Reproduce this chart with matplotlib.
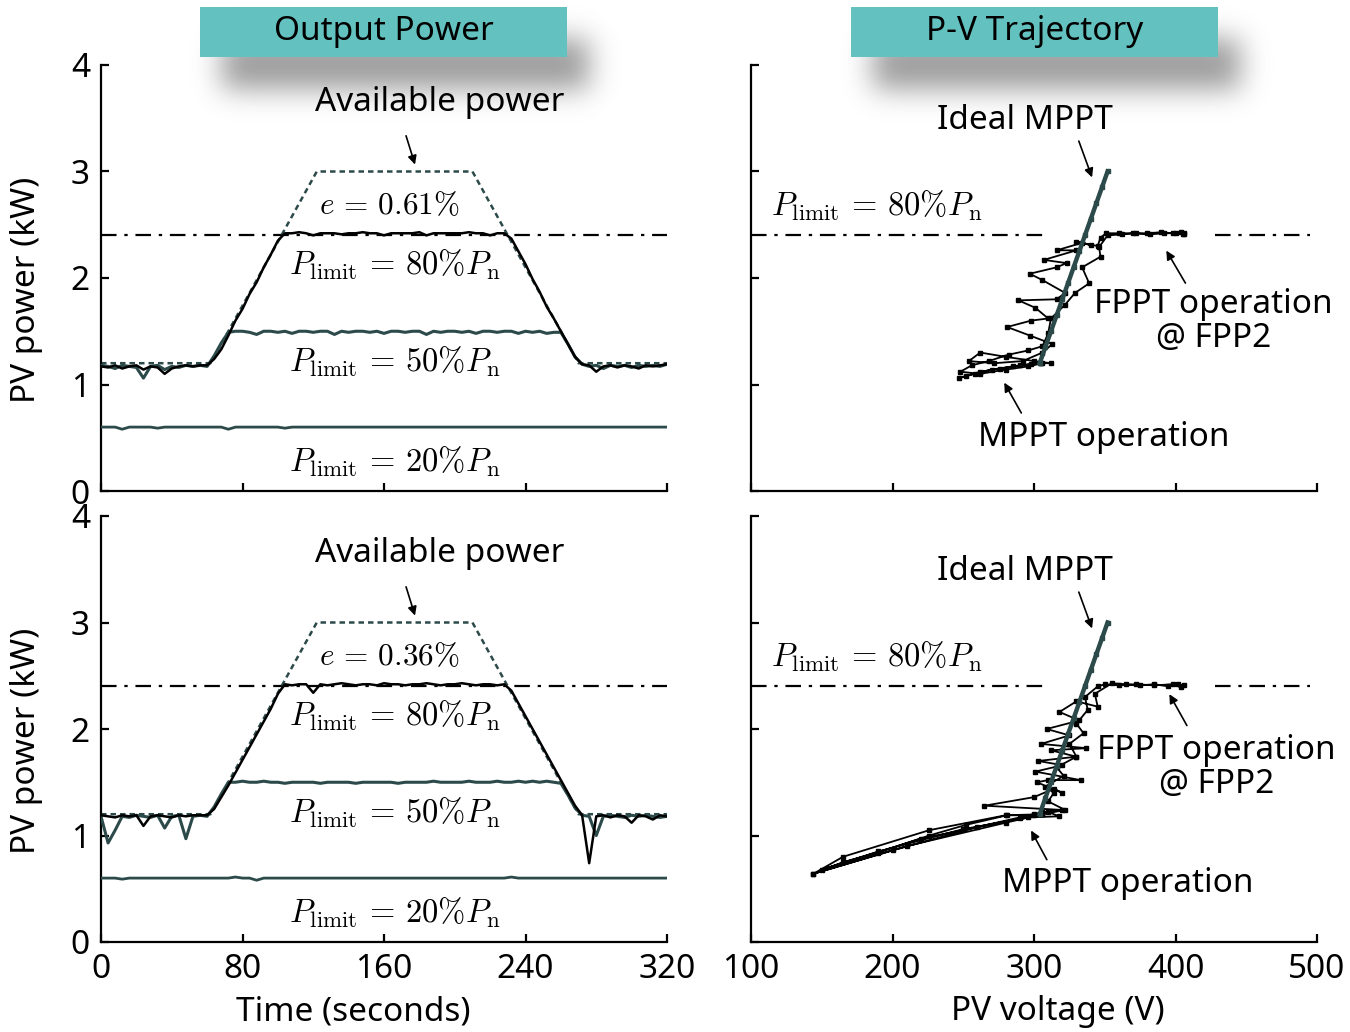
import numpy as np
import matplotlib
matplotlib.use("Agg")
import matplotlib.pyplot as plt
from matplotlib.patches import Rectangle

plt.rcParams['font.family'] = ['Noto Sans', 'DejaVu Sans']
plt.rcParams['mathtext.fontset'] = 'cm'

# ---------------- data ----------------
time_s = np.arange(0, 321, 4)

avail_t = [0, 62, 122, 210, 270, 320]
avail_p = [1.20, 1.20, 3.00, 3.00, 1.20, 1.20]

top_p80 = [1.17, 1.16, 1.18, 1.15, 1.17, 1.18, 1.14, 1.17, 1.16, 1.10, 1.15, 1.17, 1.18, 1.17, 1.18, 1.18,
           1.24, 1.33, 1.46, 1.60, 1.71, 1.85, 1.96, 2.10, 2.22, 2.35,
           2.42, 2.42, 2.43, 2.42, 2.40, 2.42, 2.42, 2.42, 2.41, 2.42, 2.42, 2.43, 2.42, 2.42, 2.40, 2.42,
           2.42, 2.42, 2.42, 2.43, 2.40, 2.42, 2.42, 2.42, 2.42, 2.42, 2.43, 2.42, 2.42, 2.40, 2.42, 2.42,
           2.37, 2.25, 2.13, 1.99, 1.87, 1.73, 1.62, 1.50, 1.38, 1.26, 1.19,
           1.18, 1.12, 1.17, 1.18, 1.16, 1.18, 1.17, 1.15, 1.18, 1.17, 1.18, 1.19]
top_p50 = [1.18, 1.17, 1.15, 1.18, 1.17, 1.16, 1.06, 1.17, 1.18, 1.14, 1.17, 1.16, 1.18, 1.17, 1.18, 1.17,
           1.27, 1.39,
           1.49, 1.50, 1.50, 1.49, 1.47, 1.50, 1.50, 1.49, 1.50, 1.48,
           1.50, 1.50, 1.49, 1.50, 1.50, 1.47, 1.50, 1.49, 1.50, 1.50,
           1.49, 1.50, 1.48, 1.50, 1.50, 1.49, 1.50, 1.50, 1.47, 1.50,
           1.49, 1.50, 1.50, 1.49, 1.50, 1.48, 1.50, 1.50, 1.49, 1.50,
           1.50, 1.48, 1.50, 1.49, 1.50, 1.48, 1.49,
           1.49, 1.38, 1.26, 1.19,
           1.17, 1.18, 1.15, 1.18, 1.17, 1.18, 1.16, 1.18, 1.17, 1.18, 1.17, 1.19]
top_p20 = [0.60, 0.60, 0.60, 0.58, 0.60, 0.60, 0.60, 0.60, 0.59, 0.60, 0.60, 0.60, 0.60, 0.60, 0.60, 0.60,
           0.60, 0.60, 0.58, 0.60, 0.60, 0.60, 0.60, 0.60, 0.60, 0.60, 0.59, 0.60, 0.60, 0.60, 0.60, 0.60,
           0.60, 0.60, 0.60, 0.60, 0.60, 0.60, 0.60, 0.60, 0.60, 0.60, 0.60, 0.60, 0.60, 0.60, 0.60, 0.60,
           0.60, 0.60, 0.60, 0.60, 0.60, 0.60, 0.60, 0.60, 0.60, 0.60, 0.60, 0.60, 0.60, 0.60, 0.60, 0.60,
           0.60, 0.60, 0.60, 0.60, 0.60, 0.60, 0.60, 0.60, 0.60, 0.60, 0.60, 0.60, 0.60, 0.60, 0.60, 0.60,
           0.60]

bot_p80 = [1.19, 1.18, 1.17, 1.19, 1.18, 1.19, 1.09, 1.18, 1.19, 1.18, 1.17, 1.19, 1.18, 1.19, 1.19, 1.19,
           1.25, 1.36, 1.47, 1.59, 1.71, 1.83, 1.95, 2.07, 2.19, 2.33,
           2.42, 2.41, 2.42, 2.42, 2.34, 2.42, 2.41, 2.42, 2.43, 2.42, 2.41, 2.42, 2.42, 2.41, 2.43, 2.42,
           2.42, 2.41, 2.42, 2.42, 2.43, 2.42, 2.41, 2.42, 2.42, 2.43, 2.42, 2.41, 2.42, 2.42, 2.41, 2.42,
           2.36, 2.24, 2.12, 2.00, 1.88, 1.76, 1.64, 1.52, 1.40, 1.28, 1.19,
           0.74, 1.18, 1.19, 1.17, 1.19, 1.18, 1.12, 1.19, 1.18, 1.15, 1.19, 1.18]
bot_p50 = [1.18, 0.93, 1.05, 1.18, 1.17, 1.19, 1.18, 1.17, 1.19, 1.07, 1.18, 1.19, 0.97, 1.18, 1.19, 1.18,
           1.27, 1.39,
           1.50, 1.50, 1.51, 1.50, 1.50, 1.51, 1.50, 1.50, 1.49, 1.50,
           1.50, 1.50, 1.50, 1.49, 1.50, 1.50, 1.50, 1.50, 1.49, 1.50,
           1.50, 1.50, 1.50, 1.50, 1.49, 1.50, 1.50, 1.50, 1.50, 1.51,
           1.50, 1.50, 1.50, 1.50, 1.51, 1.50, 1.50, 1.50, 1.51, 1.50,
           1.50, 1.51, 1.50, 1.51, 1.50, 1.51, 1.50,
           1.49, 1.38, 1.26, 1.19,
           1.18, 1.00, 1.18, 1.19, 1.18, 1.17, 1.19, 1.18, 1.19, 1.18, 1.17, 1.18]
bot_p20 = [0.60, 0.60, 0.60, 0.59, 0.60, 0.60, 0.60, 0.60, 0.60, 0.60, 0.60, 0.60, 0.60, 0.60, 0.60, 0.60,
           0.60, 0.60, 0.60, 0.61, 0.60, 0.60, 0.58, 0.60, 0.60, 0.60, 0.60, 0.60, 0.60, 0.60, 0.60, 0.60,
           0.60, 0.60, 0.60, 0.60, 0.60, 0.60, 0.60, 0.60, 0.60, 0.60, 0.60, 0.60, 0.60, 0.60, 0.60, 0.60,
           0.60, 0.60, 0.60, 0.60, 0.60, 0.60, 0.60, 0.60, 0.60, 0.60, 0.61, 0.60, 0.60, 0.60, 0.60, 0.60,
           0.60, 0.60, 0.60, 0.60, 0.60, 0.60, 0.60, 0.60, 0.60, 0.60, 0.60, 0.60, 0.60, 0.60, 0.60, 0.60,
           0.60]

ideal_v = [304, 308, 312, 316, 320, 324, 328, 332, 336, 340, 344, 348, 352]
ideal_p = [1.20, 1.35, 1.50, 1.65, 1.80, 1.95, 2.10, 2.25, 2.40, 2.55, 2.70, 2.85, 3.00]

pv_top_v = [305, 298, 285, 270, 258, 247, 252, 262, 276, 290, 304, 312, 300, 280, 262,
            254, 272, 292, 306, 313, 297, 281, 298, 310, 301, 289, 316, 322, 306, 297,
            316, 323, 307, 330, 316, 334, 340, 330, 345, 347, 351, 360, 370, 382, 392,
            400, 405, 406, 404, 406, 398, 390, 380, 372, 362, 352, 346, 347, 334, 339,
            329, 322, 312, 310, 306, 296, 282, 268, 256, 248, 262, 280, 296, 306]
pv_top_p = [1.20, 1.19, 1.17, 1.14, 1.10, 1.06, 1.08, 1.12, 1.15, 1.18, 1.20, 1.20, 1.22, 1.26, 1.30,
            1.22, 1.20, 1.22, 1.30, 1.38, 1.46, 1.54, 1.60, 1.62, 1.72, 1.79, 1.80, 1.86, 1.98, 2.04,
            2.10, 2.14, 2.17, 2.26, 2.26, 2.33, 2.31, 2.34, 2.30, 2.38, 2.42, 2.42, 2.42, 2.41, 2.42,
            2.42, 2.41, 2.42, 2.43, 2.41, 2.42, 2.43, 2.42, 2.42, 2.41, 2.40, 2.29, 2.20, 2.10, 1.95,
            1.86, 1.75, 1.62, 1.48, 1.36, 1.32, 1.28, 1.22, 1.18, 1.12, 1.10, 1.14, 1.17, 1.20]

pv_bot_v = [306, 300, 281, 252, 226, 190, 165, 144, 200, 260, 300, 310, 318, 296, 250,
            190, 150, 220, 290, 306, 320, 265, 300, 314, 320, 302, 310, 333, 301, 320,
            303, 330, 312, 337, 305, 325, 309, 332, 318, 330, 345, 343, 355, 365, 375,
            385, 395, 402, 406, 404, 398, 385, 372, 360, 350, 345, 336, 338, 330, 335,
            325, 330, 316, 321, 308, 314, 310, 322, 306, 280, 226, 165, 144, 210, 280, 306]
pv_bot_p = [1.20, 1.19, 1.19, 1.10, 1.00, 0.84, 0.75, 0.64, 0.86, 1.08, 1.20, 1.22, 1.18, 1.17, 1.06,
            0.85, 0.68, 0.97, 1.16, 1.22, 1.24, 1.28, 1.36, 1.44, 1.40, 1.50, 1.52, 1.52, 1.60, 1.66,
            1.70, 1.74, 1.80, 1.82, 1.86, 1.94, 2.00, 2.08, 2.16, 2.26, 2.21, 2.33, 2.43, 2.42, 2.41,
            2.42, 2.40, 2.42, 2.41, 2.39, 2.42, 2.41, 2.42, 2.41, 2.42, 2.40, 2.30, 2.18, 2.05, 1.96,
            1.86, 1.74, 1.64, 1.56, 1.46, 1.40, 1.32, 1.24, 1.20, 1.19, 1.05, 0.80, 0.64, 0.90, 1.12, 1.20]

p_limit = 2.4
limit_segments_v = [(100, 307), (428, 495)]

time_ticks = [0, 80, 160, 240, 320]
volt_ticks = [100, 200, 300, 400, 500]
power_ticks = [0, 1, 2, 3, 4]
errors = ["0.61", "0.36"]

# ---------------- style ----------------
TEAL = '#2c4a4a'
BOX = '#63c2c0'
FS = 24
MFS = 23.5
W, H = 1350, 1032
fig = plt.figure(figsize=(W / 100, H / 100), dpi=100)
fig.patch.set_facecolor('white')


def px_axes(x0, y0, x1, y1):
    return fig.add_axes([x0 / W, 1 - y1 / H, (x1 - x0) / W, (y1 - y0) / H])


def blur1d(a, sigma, axis):
    r = int(3 * sigma)
    k = np.exp(-0.5 * (np.arange(-r, r + 1) / sigma) ** 2)
    k /= k.sum()
    return np.apply_along_axis(lambda m: np.convolve(m, k, mode='same'), axis, a)


def shadow(x0, y0, x1, y1, dx, dy, sigma, strength):
    pad = int(3 * sigma) + 2
    X0, Y0, X1, Y1 = x0 + dx - pad, y0 + dy - pad, x1 + dx + pad, y1 + dy + pad
    h, w = Y1 - Y0, X1 - X0
    a = np.zeros((h, w))
    a[pad:h - pad, pad:w - pad] = 1.0
    a = blur1d(blur1d(a, sigma, 0), sigma, 1) * strength
    img = np.zeros((h, w, 4))
    img[..., :3] = 0.35
    img[..., 3] = a
    sa = px_axes(X0, Y0, X1, Y1)
    sa.imshow(img, aspect='auto', interpolation='bilinear')
    sa.axis('off')
    sa.set_zorder(-5)


def title_box(x0, x1, text):
    shadow(x0, 7, x1, 57, 22, 32, 14, 0.6)
    ta = px_axes(x0, 7, x1, 57)
    ta.add_patch(Rectangle((0, 0), 1, 1, transform=ta.transAxes, color=BOX))
    ta.text(0.5, 0.52, text, ha='center', va='center', fontsize=24, transform=ta.transAxes)
    ta.axis('off')


def style_axes(ax, xlim, xticks, ylabels, xlabels):
    ax.set_facecolor('none')
    ax.set_xlim(*xlim)
    ax.set_ylim(0, 4)
    ax.set_xticks(xticks)
    ax.set_yticks(power_ticks)
    for s in ['top', 'right']:
        ax.spines[s].set_visible(False)
    for s in ['left', 'bottom']:
        ax.spines[s].set_linewidth(1.6)
    ax.tick_params(direction='in', length=6, width=1.6, labelsize=FS, pad=8)
    if not ylabels:
        ax.set_yticklabels([])
    if not xlabels:
        ax.set_xticklabels([])


math80 = r'$P_{\rm limit}\,=\,80\%P_{\rm n}$'
math50 = r'$P_{\rm limit}\,=\,50\%P_{\rm n}$'
math20 = r'$P_{\rm limit}\,=\,20\%P_{\rm n}$'

title_box(200, 567, 'Output Power')
title_box(851, 1218, 'P-V Trajectory')

rows = [(65, 491, top_p80, top_p50, top_p20, pv_top_v, pv_top_p, errors[0]),
        (516, 942, bot_p80, bot_p50, bot_p20, pv_bot_v, pv_bot_p, errors[1])]

arrow_kw = dict(arrowstyle='-|>', color='black', lw=1.2, mutation_scale=13)

for r, (y0, y1, p80, p50, p20, pvv, pvp, err) in enumerate(rows):
    last = r == 1
    # ----- left: time series -----
    ax = px_axes(101, y0, 667, y1)
    style_axes(ax, (0, 320), time_ticks, True, last)
    ax.axhline(p_limit, color='black', lw=1.6, dashes=[7, 3.5, 1.5, 3.5], zorder=1)
    ax.plot(avail_t, avail_p, color=TEAL, lw=1.8, dashes=[2.2, 1.6], zorder=2)
    ax.plot(time_s, p50, color=TEAL, lw=2.2, zorder=3)
    ax.plot(time_s, p80, color='black', lw=1.8, zorder=4)
    ax.plot(time_s, p20, color=TEAL, lw=2.0, zorder=3)
    ax.set_ylabel('PV power (kW)', fontsize=FS)
    ax.yaxis.set_label_coords(-0.131, 0.473)
    ax.yaxis.label.set_va('center')
    if last:
        ax.set_xlabel('Time (seconds)', fontsize=FS)
        ax.xaxis.set_label_coords(0.445, -0.164)
        ax.xaxis.label.set_va('center')
    ax.text(191.5, 3.65, 'Available power', fontsize=FS, ha='center', va='center')
    ax.annotate('', xy=(178, 3.04), xytext=(172, 3.36), arrowprops=arrow_kw)
    ax.text(163, 2.68, r'$e\,=\,%s\%%$' % err, fontsize=22.5, ha='center', va='center')
    ax.text(166, 2.12, math80, fontsize=MFS, ha='center', va='center')
    ax.text(166, 1.21, math50, fontsize=MFS, ha='center', va='center')
    ax.text(166, 0.27, math20, fontsize=MFS, ha='center', va='center')

    # ----- right: P-V trajectory -----
    bx = px_axes(751, y0, 1317, y1)
    style_axes(bx, (100, 500), volt_ticks, False, last)
    for va_, vb_ in limit_segments_v:
        bx.plot([va_, vb_], [p_limit, p_limit], color='black', lw=1.6,
                dashes=[7, 3.5, 1.5, 3.5], zorder=1)
    bx.plot(pvv, pvp, color='black', lw=1.3, marker='s', ms=3.2, zorder=3)
    bx.plot(ideal_v, ideal_p, color=TEAL, lw=3.2, marker='s', ms=2.5, zorder=4)
    if last:
        bx.set_xlabel('PV voltage (V)', fontsize=FS)
        bx.xaxis.set_label_coords(0.542, -0.164)
        bx.xaxis.label.set_va('center')
    bx.text(293.5, 3.48, 'Ideal MPPT', fontsize=FS, ha='center', va='center')
    bx.annotate('', xy=(341.7, 2.92), xytext=(331, 3.31), arrowprops=arrow_kw)
    bx.text(189, 2.67, math80, fontsize=MFS, ha='center', va='center')
    if not last:
        bx.text(427, 1.59, 'FPPT operation\n@ FPP2', fontsize=FS, ha='center', va='center',
                linespacing=1.05)
        bx.annotate('', xy=(392.5, 2.28), xytext=(408, 1.93), arrowprops=arrow_kw)
        bx.text(349.5, 0.50, 'MPPT operation', fontsize=FS, ha='center', va='center')
        bx.annotate('', xy=(278, 1.04), xytext=(292, 0.71), arrowprops=arrow_kw)
    else:
        bx.text(429, 1.64, 'FPPT operation\n@ FPP2', fontsize=FS, ha='center', va='center',
                linespacing=1.05)
        bx.annotate('', xy=(394.7, 2.35), xytext=(409, 2.01), arrowprops=arrow_kw)
        bx.text(366.4, 0.545, 'MPPT operation', fontsize=FS, ha='center', va='center')
        bx.annotate('', xy=(297, 1.07), xytext=(310, 0.75), arrowprops=arrow_kw)

fig.savefig('out.png', dpi=100, facecolor='white')
